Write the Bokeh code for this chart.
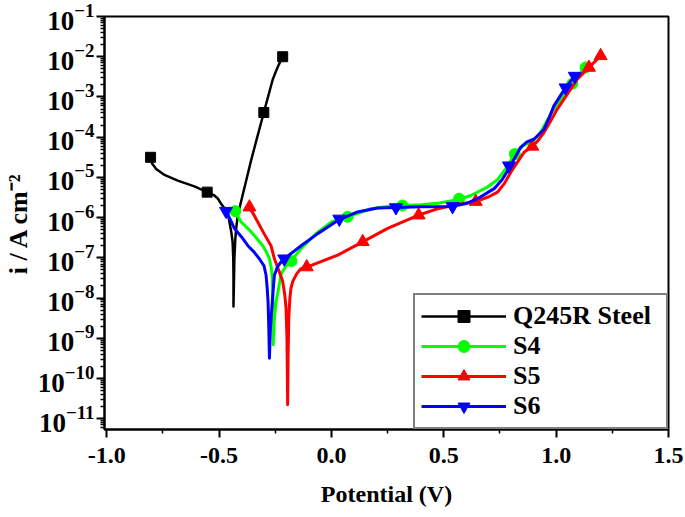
from bokeh.plotting import figure
from bokeh.models import Range1d, FixedTicker, Legend, LegendItem, PrintfTickFormatter
from bokeh.embed import file_html
from bokeh.resources import INLINE

# ---------------- data ----------------
series_names = ["Q245R Steel", "S4", "S5", "S6"]

# Q245R Steel
q_E = [-0.805, -0.799, -0.780, -0.743, -0.684, -0.610, -0.553, -0.521, -0.505, -0.491,
       -0.475, -0.461, -0.454, -0.446, -0.440, -0.437, -0.436, -0.436, -0.434, -0.432,
       -0.428, -0.424, -0.417, -0.410, -0.358, -0.301, -0.280, -0.261, -0.238, -0.217]
q_i = [3.16e-5, 2.24e-5, 1.62e-5, 1.15e-5, 8.3e-6, 6.0e-6, 4.3e-6, 3.55e-6, 2.95e-6, 2.2e-6,
       1.66e-6, 1.26e-6, 7.8e-7, 4.47e-7, 2.51e-7, 1.0e-7, 3.8e-8, 6.2e-9, 2.51e-8, 9.5e-8,
       2.82e-7, 5.4e-7, 1.12e-6, 1.66e-6, 2.6e-5, 4.1e-4, 1.12e-3, 2.75e-3, 5.75e-3, 1.0e-2]
q_mE = [-0.805, -0.553, -0.301, -0.217]
q_mi = [3.16e-5, 4.3e-6, 4.1e-4, 1.0e-2]

# S4
s4_E = [-0.428, -0.415, -0.402, -0.370, -0.343, -0.306, -0.290, -0.276, -0.268, -0.263,
        -0.261, -0.260, -0.259, -0.255, -0.247, -0.236, -0.224, -0.202, -0.180, -0.135,
        -0.069, 0.000, 0.072, 0.176, 0.264, 0.316, 0.400, 0.480, 0.568, 0.620,
        0.694, 0.740, 0.780, 0.816, 0.850, 0.900, 0.931, 0.960, 0.989, 1.030,
        1.072, 1.100, 1.131]
s4_i = [1.45e-6, 1.05e-6, 7.8e-7, 5.25e-7, 3.6e-7, 2.0e-7, 1.41e-7, 9.5e-8, 5.6e-8, 3.16e-8,
        9.8e-9, 3.16e-9, 6.9e-10, 2.5e-9, 7.9e-9, 1.66e-8, 3.98e-8, 6.3e-8, 8.3e-8, 1.7e-7,
        3.98e-7, 7.8e-7, 1.05e-6, 1.66e-6, 1.95e-6, 2.0e-6, 2.1e-6, 2.3e-6, 2.82e-6, 3.55e-6,
        5.75e-6, 8.9e-6, 1.78e-5, 3.8e-5, 6.0e-5, 8.3e-5, 1.32e-4, 2.6e-4, 5.0e-4, 1.05e-3,
        2.14e-3, 3.55e-3, 5.4e-3]
s4_mE = [-0.428, -0.178, 0.072, 0.316, 0.568, 0.816, 1.072, 1.131]
s4_mi = [1.45e-6, 8.3e-8, 1.05e-6, 2.0e-6, 2.95e-6, 3.8e-5, 2.14e-3, 5.4e-3]

# S5
s5_E = [-0.365, -0.345, -0.328, -0.300, -0.269, -0.254, -0.235, -0.217, -0.207, -0.202,
        -0.198, -0.196, -0.195, -0.193, -0.190, -0.185, -0.180, -0.172, -0.155, -0.136,
        -0.110, 0.028, 0.139, 0.250, 0.388, 0.472, 0.576, 0.642, 0.700, 0.739,
        0.770, 0.798, 0.830, 0.857, 0.894, 0.920, 0.946, 0.975, 1.005, 1.050,
        1.094, 1.146, 1.198]
s5_i = [1.82e-6, 1.17e-6, 7.8e-7, 4.0e-7, 2.0e-7, 9.5e-8, 5.0e-8, 2.6e-8, 1.12e-8, 5.5e-9,
        1.0e-9, 1.0e-10, 2.24e-11, 3.16e-10, 3.16e-9, 1.0e-8, 1.78e-8, 2.6e-8, 4.0e-8, 5.4e-8,
        5.9e-8, 1.17e-7, 2.5e-7, 5.4e-7, 1.15e-6, 1.66e-6, 2.2e-6, 2.5e-6, 3.3e-6, 4.3e-6,
        7.1e-6, 1.35e-5, 2.5e-5, 4.2e-5, 5.9e-5, 8.3e-5, 1.32e-4, 2.5e-4, 5.0e-4, 1.17e-3,
        2.75e-3, 5.4e-3, 1.05e-2]
s5_mE = [-0.365, -0.110, 0.139, 0.388, 0.642, 0.894, 1.146, 1.198]
s5_mi = [1.82e-6, 5.9e-8, 2.5e-7, 1.15e-6, 2.5e-6, 5.9e-5, 5.4e-3, 1.05e-2]

# S6
s6_E = [-0.469, -0.450, -0.432, -0.400, -0.372, -0.345, -0.321, -0.300, -0.291, -0.286,
        -0.282, -0.279, -0.276, -0.272, -0.266, -0.261, -0.254, -0.240, -0.224, -0.210,
        -0.135, -0.061, 0.028, 0.116, 0.205, 0.287, 0.400, 0.539, 0.600, 0.650,
        0.724, 0.760, 0.790, 0.842, 0.870, 0.901, 0.925, 0.946, 0.970, 0.990,
        1.042, 1.083]
s6_i = [1.45e-6, 8.9e-7, 5.4e-7, 3.3e-7, 2.0e-7, 1.41e-7, 9.5e-8, 6.3e-8, 3.7e-8, 1.78e-8,
        7.9e-9, 2.0e-9, 3.2e-10, 1.58e-9, 5.0e-9, 1.2e-8, 3.7e-8, 6.0e-8, 7.9e-8, 9.5e-8,
        2.0e-7, 4.0e-7, 8.5e-7, 1.38e-6, 1.74e-6, 1.78e-6, 1.86e-6, 1.9e-6, 2.24e-6, 2.95e-6,
        5.25e-6, 8.9e-6, 1.66e-5, 5.6e-5, 7.6e-5, 8.9e-5, 1.2e-4, 1.58e-4, 3.16e-4, 6.0e-4,
        1.7e-3, 3.3e-3]
s6_mE = [-0.469, -0.210, 0.035, 0.287, 0.539, 0.790, 1.042, 1.083]
s6_mi = [1.45e-6, 9.5e-8, 9.3e-7, 1.78e-6, 1.9e-6, 1.95e-5, 1.7e-3, 3.3e-3]

x_ticks = [-1.0, -0.5, 0.0, 0.5, 1.0, 1.5]
x_minor = [-0.75, -0.25, 0.25, 0.75, 1.25]
y_decades = list(range(-11, 0))

# ---------------- figure ----------------
FONT = "Liberation Serif"
p = figure(width=685, height=517,
           x_range=Range1d(-1.01, 1.5), y_range=Range1d(5.4e-12, 0.1),
           y_axis_type="log", output_backend="svg", toolbar_location=None,
           min_border_left=102, min_border_right=17, min_border_top=16, min_border_bottom=88)
p.xgrid.visible = False
p.ygrid.visible = False
p.outline_line_color = "black"
p.outline_line_width = 2
p.background_fill_color = "white"
p.border_fill_color = "white"

p.xaxis.ticker = FixedTicker(ticks=x_ticks, minor_ticks=x_minor)
p.xaxis.formatter = PrintfTickFormatter(format="%.1f")
y_major = [10.0 ** d for d in y_decades]
y_minor = [k * 10.0 ** d for d in range(-12, -1) for k in range(2, 10)]
p.yaxis.ticker = FixedTicker(ticks=y_major, minor_ticks=y_minor)

for ax in (p.xaxis, p.yaxis):
    ax.axis_line_width = 2
    ax.major_tick_line_width = 2
    ax.minor_tick_line_width = 1.5
    ax.major_tick_in = 0
    ax.minor_tick_in = 0
    ax.major_tick_out = 8
    ax.minor_tick_out = 4
    ax.major_label_text_font = FONT
    ax.major_label_text_font_style = "bold"
    ax.major_label_text_color = "black"
    ax.axis_label_text_font = FONT
    ax.axis_label_text_font_style = "bold"
    ax.axis_label_text_font_size = "24px"
    ax.axis_label_text_color = "black"

p.xaxis.major_label_text_font_size = "24px"
p.yaxis.major_label_text_font_size = "27px"
p.xaxis.axis_label = "Potential (V)"
p.yaxis.axis_label = "i / A cm\u207b\u00b2"
p.yaxis.axis_label_text_font_size = "26px"
p.xaxis.major_label_standoff = 10
p.xaxis.axis_label_standoff = 15
p.yaxis.major_label_standoff = 2
p.yaxis.axis_label_standoff = 2

colors = ["black", "#00FF00", "#FF0000", "#0000FF"]
markers = ["square", "circle", "triangle", "inverted_triangle"]
sizes = [10, 11, 13, 13]
data = [(q_E, q_i, q_mE, q_mi), (s4_E, s4_i, s4_mE, s4_mi),
        (s5_E, s5_i, s5_mE, s5_mi), (s6_E, s6_i, s6_mE, s6_mi)]
widths = [2.5, 3, 3, 3]

items = []
for name, col, mk, sz, lw, (E, I, mE, mI) in zip(series_names, colors, markers, sizes, widths, data):
    lr = p.line(E, I, line_color=col, line_width=lw, line_join="round")
    sr = p.scatter(mE, mI, marker=mk, size=sz, fill_color=col, line_color=col)
    items.append(LegendItem(label=name, renderers=[lr, sr]))

legend = Legend(items=items, location="bottom_right", margin=0, padding=6, spacing=0,
                label_height=30, glyph_height=30, glyph_width=85, label_standoff=7,
                label_width=147, border_line_color="black", border_line_width=2,
                label_text_font=FONT, label_text_font_style="bold",
                label_text_font_size="26px", label_text_color="black",
                background_fill_alpha=1.0)
p.add_layout(legend)

open("out.html", "w").write(file_html(p, INLINE))
